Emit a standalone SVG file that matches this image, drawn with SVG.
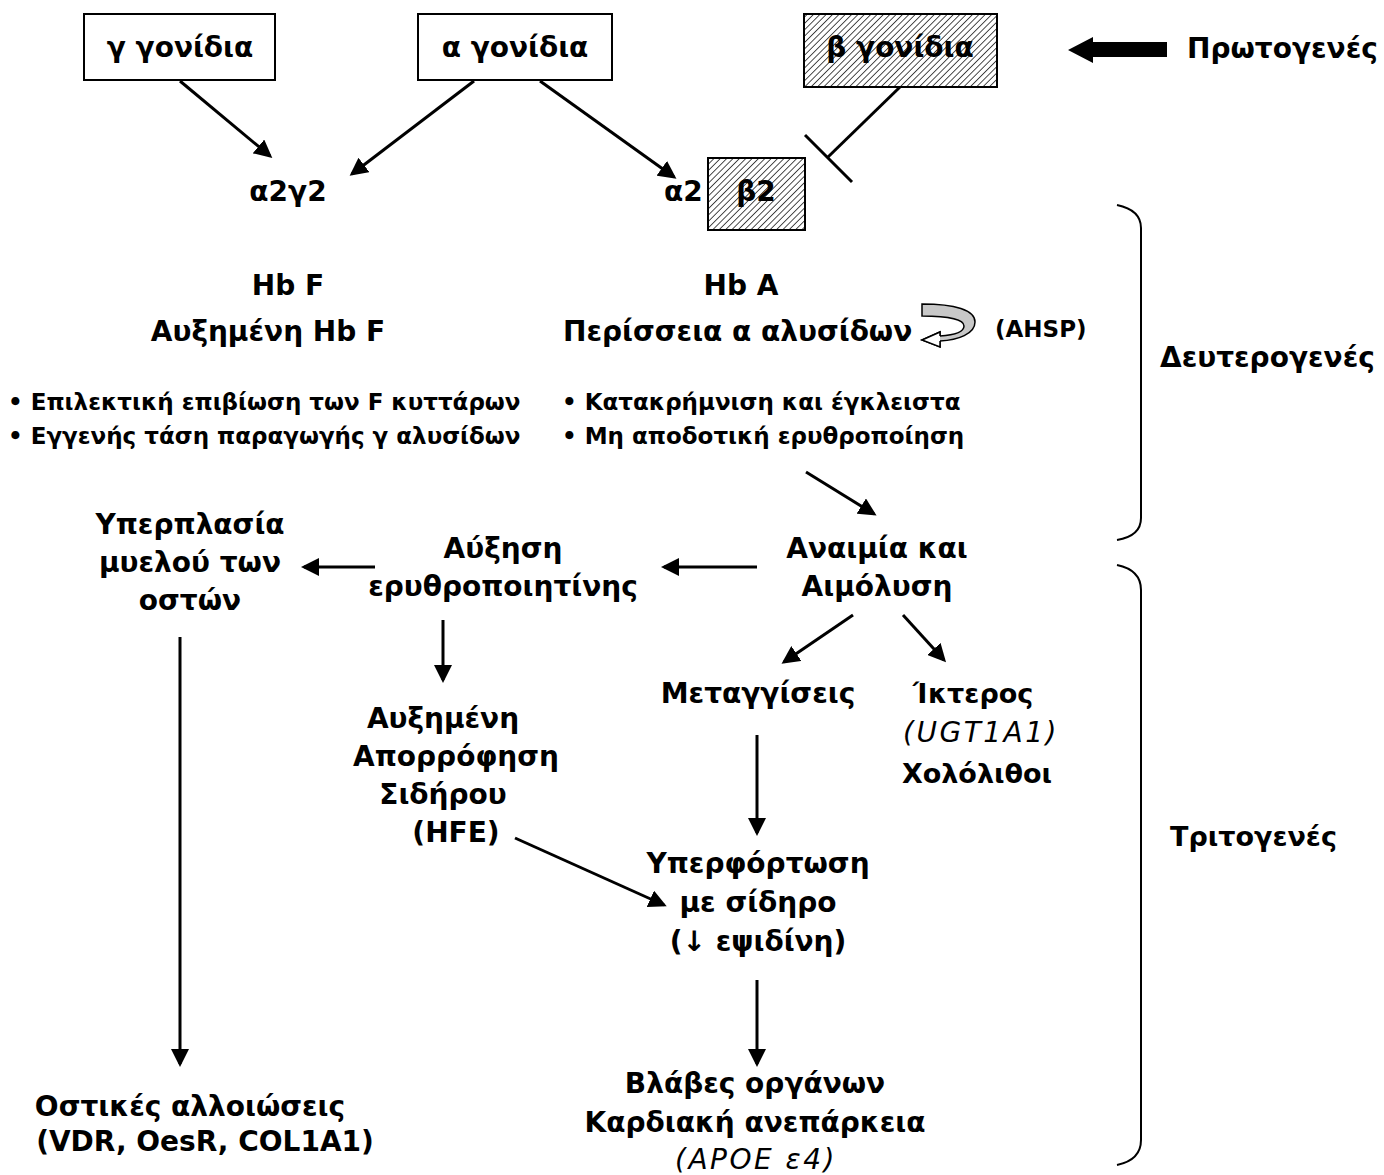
<svg xmlns="http://www.w3.org/2000/svg" width="1384" height="1175" viewBox="0 0 1384 1175">
<style>
text{font-family:"DejaVu Sans","Liberation Sans",sans-serif;font-weight:bold;fill:#000}
.t28{font-size:28px}
.t27{font-size:27px}
.t23{font-size:23px}
.it{font-weight:normal;font-style:italic;letter-spacing:2.5px}
.c{text-anchor:middle}
.box{fill:#fff;stroke:#000;stroke-width:2}
.hbox{fill:url(#hatch);stroke:#000;stroke-width:2}
.ln{stroke:#000;stroke-width:3;fill:none}
.arr{stroke:#000;stroke-width:3;fill:none;marker-end:url(#ah)}
.br{stroke:#000;stroke-width:2;fill:none}
</style>
<defs>
<pattern id="hatch" patternUnits="userSpaceOnUse" width="4.5" height="4.5" patternTransform="rotate(45)">
<rect width="4.5" height="4.5" fill="#fff"/>
<line x1="0" y1="0" x2="0" y2="4.5" stroke="#000" stroke-width="1.4"/>
</pattern>
<marker id="ah" markerWidth="6" markerHeight="6" refX="5" refY="3" orient="auto" markerUnits="strokeWidth">
<path d="M0,0 L6,3 L0,6 Z" fill="#000"/>
</marker>
</defs>
<rect width="1384" height="1175" fill="#fff"/>

<g id="connectors">
<line class="arr" x1="180" y1="81" x2="270" y2="156"/>
<line class="arr" x1="474" y1="81" x2="352" y2="174"/>
<line class="arr" x1="540" y1="81" x2="674" y2="177"/>
<line class="ln" x1="900" y1="87" x2="828" y2="157"/>
<line class="ln" x1="805" y1="135" x2="852" y2="182"/>
<line class="arr" x1="806" y1="472" x2="874" y2="514"/>
<line class="arr" x1="757" y1="567" x2="664" y2="567"/>
<line class="arr" x1="375" y1="567" x2="304" y2="567"/>
<line class="arr" x1="180" y1="637" x2="180" y2="1064"/>
<line class="arr" x1="443" y1="620" x2="443" y2="680"/>
<line class="arr" x1="515" y1="838" x2="664" y2="905"/>
<line class="arr" x1="853" y1="615" x2="784" y2="662"/>
<line class="arr" x1="903" y1="615" x2="944" y2="660"/>
<line class="arr" x1="757" y1="735" x2="757" y2="833"/>
<line class="arr" x1="757" y1="980" x2="757" y2="1064"/>
<path d="M1068,50 L1093,37 L1093,42 L1167,42 L1167,57 L1093,57 L1093,63 Z" fill="#000"/>
<path d="M922,304 C955,304 975,310 975,322 C975,334 958,340 940,341 L940,347 L922,340 L940,332 L940,336 C955,335 964,332 964,326 C964,320 950,316 922,316 Z" fill="#c8c8c8" stroke="#000" stroke-width="1.5"/>
<path d="M940,341 L940,347 L922,340 L940,332 L940,336" fill="#fff" stroke="#000" stroke-width="1.5"/>
<path class="br" d="M1117,205 Q1141,210 1141,228 L1141,518 Q1141,536 1117,540"/>
<path class="br" d="M1117,565 Q1141,570 1141,590 L1141,1140 Q1141,1160 1117,1165"/>
</g>

<g id="gamma-genes">
<rect class="box" x="84" y="14" width="191" height="66"/>
<text class="t28 c" x="180" y="57">γ γονίδια</text>
</g>
<g id="alpha-genes">
<rect class="box" x="418" y="14" width="194" height="66"/>
<text class="t28 c" x="515" y="57">α γονίδια</text>
</g>
<g id="beta-genes">
<rect class="hbox" x="804" y="14" width="193" height="73"/>
<text class="t28 c" x="900" y="57">β γονίδια</text>
</g>
<g id="primary">
<text class="t28" x="1187" y="58">Πρωτογενές</text>
</g>
<g id="a2g2">
<text class="t28 c" x="288" y="201">α2γ2</text>
</g>
<g id="a2b2">
<text class="t28" x="664" y="201">α2</text>
<rect class="hbox" x="708" y="158" width="97" height="72"/>
<text class="t28 c" x="756" y="201">β2</text>
</g>
<g id="hbf">
<text class="t28 c" x="288" y="295">Hb F</text>
<text class="t28 c" x="268" y="341">Αυξημένη Hb F</text>
</g>
<g id="hba">
<text class="t28 c" x="741" y="295">Hb A</text>
<text class="t28" x="563" y="341">Περίσσεια α αλυσίδων</text>
<text class="t23" x="995" y="337">(AHSP)</text>
</g>
<g id="bullets-left">
<text class="t23" x="8" y="410">• Επιλεκτική επιβίωση των F κυττάρων</text>
<text class="t23" x="8" y="444">• Εγγενής τάση παραγωγής γ αλυσίδων</text>
</g>
<g id="bullets-right">
<text class="t23" x="562" y="410">• Κατακρήμνιση και έγκλειστα</text>
<text class="t23" x="562" y="444">• Μη αποδοτική ερυθροποίηση</text>
</g>
<g id="secondary">
<text class="t28" x="1160" y="367">Δευτερογενές</text>
</g>
<g id="anemia">
<text class="t28 c" x="877" y="558">Αναιμία και</text>
<text class="t28 c" x="877" y="596">Αιμόλυση</text>
</g>
<g id="epo">
<text class="t28 c" x="503" y="558">Αύξηση</text>
<text class="t28 c" x="503" y="596">ερυθροποιητίνης</text>
</g>
<g id="marrow">
<text class="t28 c" x="190" y="534">Υπερπλασία</text>
<text class="t28 c" x="190" y="572">μυελού των</text>
<text class="t28 c" x="190" y="610">οστών</text>
</g>
<g id="bone">
<text class="t28 c" x="190" y="1116">Οστικές αλλοιώσεις</text>
<text class="t28 c" x="205" y="1151">(VDR, OesR, COL1A1)</text>
</g>
<g id="iron-abs">
<text class="t28 c" x="443" y="728">Αυξημένη</text>
<text class="t28 c" x="456" y="766">Απορρόφηση</text>
<text class="t28 c" x="443" y="804">Σιδήρου</text>
<text class="t28 c" x="456" y="842">(HFE)</text>
</g>
<g id="transfusions">
<text class="t28 c" x="758" y="703">Μεταγγίσεις</text>
</g>
<g id="jaundice">
<text class="t27 c" x="973" y="703">Ίκτερος</text>
<text class="t28 it c" x="981" y="742">(UGT1A1)</text>
<text class="t27 c" x="977" y="783">Χολόλιθοι</text>
</g>
<g id="iron-overload">
<text class="t28 c" x="758" y="873">Υπερφόρτωση</text>
<text class="t28 c" x="758" y="912">με σίδηρο</text>
<text class="t28 c" x="758" y="951">(↓ εψιδίνη)</text>
</g>
<g id="organs">
<text class="t28 c" x="755" y="1093">Βλάβες οργάνων</text>
<text class="t28 c" x="755" y="1132">Καρδιακή ανεπάρκεια</text>
<text class="t28 it c" x="756" y="1169">(APOE ε4)</text>
</g>
<g id="tertiary">
<text class="t27" x="1170" y="846">Τριτογενές</text>
</g>
</svg>
